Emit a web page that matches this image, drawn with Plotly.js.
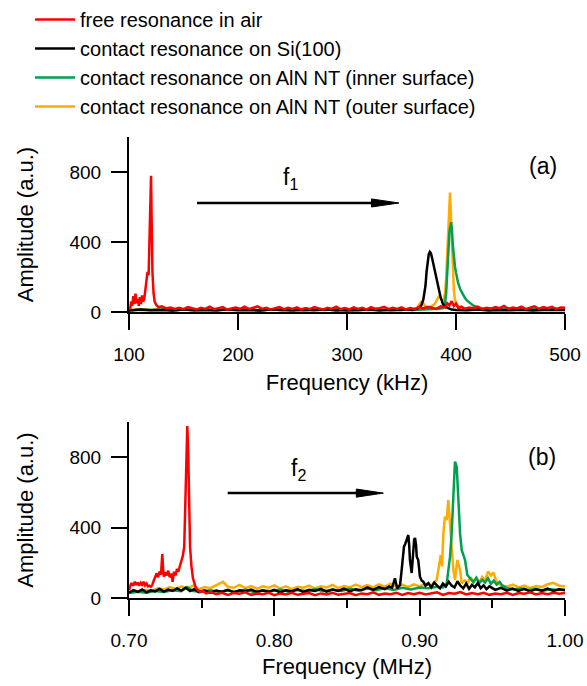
<!DOCTYPE html>
<html>
<head>
<meta charset="utf-8">
<script src="https://cdn.plot.ly/plotly-3.0.1.min.js"></script>
<style>html,body{margin:0;padding:0;background:#fff;}#chart{width:587px;height:686px;}</style>
</head>
<body>
<div id="chart"></div>
<script>
// ---------- Series names and colours ----------
const seriesNames = ["free resonance in air", "contact resonance on Si(100)", "contact resonance on AlN NT (inner surface)", "contact resonance on AlN NT (outer surface)"];
const seriesColors = ["#ff0000", "#000000", "#00a050", "#ffab00"];

// ---------- Panel (a): first resonance, frequency in kHz ----------
const freqA_air = [100,101,102,103,104,105,106,107,108,109,110,111,112,113,114,115,116,117,118,118.8,119.5,120.2,120.8,121.5,122.5,123.5,125,127,130,134,138,142,146,150,154,158,162,166,170,174,178,182,186,190,194,198,202,206,210,214,218,222,226,230,234,238,242,246,250,254,258,262,266,270,274,278,282,286,290,294,298,302,306,310,314,318,322,326,330,334,338,342,346,350,354,358,362,366,370,374,378,382,386,390,392,394,396,398,400,402,405,408,412,416,420,424,428,432,436,440,444,448,452,456,460,464,468,472,476,480,484,488,492,496,500];
const ampA_air = [30,15,60,35,90,45,105,50,75,35,85,45,95,60,75,125,195,229,210,420,690,778,520,230,110,60,40,28,32,20,26,18,24,16,28,20,14,24,18,30,16,22,28,14,20,26,18,30,16,22,32,18,24,14,20,28,16,24,18,26,14,22,16,28,20,14,24,18,30,16,22,14,26,18,24,14,28,18,22,30,16,24,18,26,14,22,16,28,20,30,24,18,32,26,50,38,62,34,48,22,30,18,26,20,30,16,24,18,28,22,34,18,26,20,30,16,24,32,18,28,22,30,16,26,24];

const freqA_si = [100,110,120,130,140,150,160,170,180,190,200,210,220,230,240,250,260,270,280,290,300,310,320,330,340,350,356,360,364,366,368,370,371,372,373,374,375,376,377,378,379,380,381,382,383,384,385,386,387,388,390,393,396,400,410,420,430,440,450,460,470,480,490,500];
const ampA_si = [8,14,10,12,8,14,10,12,9,15,10,12,8,14,11,9,13,10,15,9,12,10,14,9,13,11,16,12,18,26,35,70,110,150,230,300,330,343,335,310,280,245,215,180,150,125,100,80,65,45,30,20,14,12,10,14,9,12,10,13,9,12,10,11];

const freqA_inner = [100,110,120,130,140,150,160,170,180,190,200,210,220,230,240,250,260,270,280,290,300,310,320,330,340,350,360,370,380,385,388,390,391,392,393,394,395.5,396.3,397,398,399,400,402,404,405,407,408.3,410,413,416,420,425,430,440,450,460,470,480,490,500];
const ampA_inner = [9,13,11,15,9,14,10,15,12,13,10,15,9,14,11,15,10,14,12,16,9,14,12,15,10,14,12,15,14,18,22,50,110,240,370,460,513,470,390,310,262,225,165,128,115,92,80,66,50,36,26,18,22,15,19,13,17,14,18,13];

const freqA_outer = [100,110,120,130,140,150,160,170,180,190,200,210,220,230,240,250,260,270,280,290,300,310,320,330,340,350,356,360,364,366,368,370,372,374,376,378,380,382,384,386,388,389,390,391,392,393,394,394.5,395,396,397,398,399,400,402,405,410,415,420,430,440,450,460,470,480,490,500];
const ampA_outer = [10,16,12,18,10,15,12,17,11,16,13,18,10,15,12,17,11,16,13,18,10,15,14,19,12,18,14,20,22,40,58,50,32,22,28,32,42,62,87,80,62,78,110,200,350,520,640,683,610,420,230,125,72,50,34,22,18,24,16,20,15,22,14,19,16,20,15];

// ---------- Panel (b): second resonance, frequency in MHz ----------
const freqB_air = [0.700,0.7016,0.703,0.704,0.705,0.706,0.707,0.708,0.709,0.710,0.711,0.712,0.713,0.714,0.715,0.716,0.717,0.718,0.719,0.720,0.721,0.722,0.7229,0.7236,0.724,0.725,0.726,0.727,0.728,0.729,0.730,0.731,0.732,0.733,0.734,0.735,0.736,0.737,0.738,0.7388,0.7395,0.7401,0.7408,0.7415,0.742,0.743,0.744,0.745,0.746,0.7475,0.749,0.751,0.753,0.756,0.760,0.764,0.768,0.772,0.776,0.780,0.784,0.788,0.792,0.796,0.800,0.804,0.808,0.812,0.816,0.820,0.824,0.828,0.832,0.836,0.840,0.844,0.848,0.852,0.856,0.860,0.864,0.868,0.872,0.876,0.880,0.884,0.888,0.892,0.896,0.900,0.904,0.908,0.912,0.916,0.920,0.924,0.928,0.932,0.936,0.940,0.944,0.948,0.952,0.956,0.960,0.964,0.968,0.972,0.976,0.980,0.984,0.988,0.992,0.996,1.000];
const ampB_air = [45,85,70,92,74,88,70,86,76,92,72,82,66,70,64,74,98,125,140,118,150,132,250,150,121,146,128,155,118,140,92,150,128,165,150,182,205,238,292,520,823,977,810,420,292,178,112,84,58,44,34,40,26,34,22,30,18,28,24,32,18,26,22,30,16,26,20,30,18,24,28,16,26,20,30,18,24,28,16,26,22,32,18,26,22,30,18,28,22,30,20,26,32,18,28,24,34,20,28,22,30,18,26,22,30,18,28,24,32,20,28,22,30,24,28];

const freqB_si = [0.700,0.703,0.706,0.709,0.712,0.715,0.718,0.721,0.724,0.727,0.730,0.733,0.736,0.739,0.742,0.745,0.748,0.752,0.756,0.760,0.764,0.768,0.772,0.776,0.780,0.784,0.788,0.792,0.796,0.800,0.804,0.808,0.812,0.816,0.820,0.824,0.828,0.832,0.836,0.840,0.844,0.848,0.852,0.856,0.860,0.864,0.868,0.872,0.876,0.879,0.881,0.883,0.8845,0.8865,0.8875,0.8883,0.8892,0.8902,0.8911,0.8922,0.8928,0.8933,0.8945,0.8950,0.8956,0.8962,0.8968,0.8975,0.8980,0.8990,0.8996,0.9002,0.9013,0.9025,0.904,0.906,0.908,0.910,0.912,0.914,0.916,0.918,0.920,0.922,0.924,0.926,0.928,0.930,0.932,0.934,0.936,0.938,0.940,0.942,0.944,0.946,0.948,0.952,0.956,0.960,0.964,0.968,0.972,0.976,0.980,0.984,0.988,0.992,0.996,1.000];
const ampB_si = [30,45,35,48,32,44,38,52,36,48,40,55,42,58,40,50,34,44,30,42,36,46,32,44,38,48,34,42,36,46,32,44,38,50,34,46,40,52,36,48,40,54,38,50,44,60,46,62,50,66,58,112,55,74,150,216,292,310,330,358,300,216,142,200,312,330,341,300,235,216,170,121,100,93,70,85,60,88,70,55,82,65,92,70,60,95,70,55,82,52,75,60,86,56,72,50,66,46,58,42,54,40,52,38,50,42,54,40,50,44];

const freqB_inner = [0.700,0.706,0.712,0.718,0.724,0.730,0.736,0.740,0.744,0.750,0.756,0.762,0.768,0.774,0.780,0.786,0.792,0.798,0.804,0.810,0.816,0.822,0.828,0.834,0.840,0.846,0.852,0.858,0.864,0.870,0.876,0.882,0.888,0.894,0.900,0.906,0.912,0.916,0.9186,0.9209,0.9220,0.9232,0.9243,0.9255,0.9266,0.9278,0.9289,0.9312,0.9328,0.935,0.937,0.939,0.941,0.943,0.945,0.947,0.949,0.951,0.953,0.955,0.957,0.960,0.965,0.970,0.975,0.980,0.985,0.990,0.995,1.000];
const ampB_inner = [28,36,30,40,34,44,38,62,40,36,44,34,42,36,46,34,44,38,48,36,46,40,50,38,48,40,52,42,54,44,56,46,58,48,60,56,64,60,83,235,367,595,775,746,557,367,273,216,131,108,90,115,85,104,88,112,80,98,76,92,70,56,48,54,44,52,42,50,46,48];

const freqB_outer = [0.700,0.704,0.708,0.712,0.716,0.720,0.724,0.728,0.732,0.736,0.740,0.744,0.748,0.752,0.756,0.760,0.7647,0.768,0.772,0.776,0.780,0.784,0.788,0.792,0.796,0.800,0.804,0.808,0.812,0.816,0.820,0.824,0.828,0.832,0.836,0.840,0.844,0.848,0.852,0.856,0.860,0.864,0.868,0.872,0.876,0.880,0.884,0.888,0.892,0.896,0.900,0.904,0.908,0.9117,0.9135,0.9145,0.9154,0.9163,0.9174,0.9186,0.9197,0.9209,0.9220,0.9232,0.9243,0.9259,0.9278,0.9289,0.931,0.933,0.935,0.937,0.939,0.941,0.943,0.945,0.947,0.949,0.9507,0.953,0.956,0.960,0.964,0.968,0.972,0.976,0.980,0.984,0.988,0.992,0.996,1.000];
const ampB_outer = [36,42,34,46,40,56,48,62,52,66,54,70,50,62,56,72,92,64,58,74,56,68,52,66,58,72,54,66,50,64,58,70,54,66,60,74,56,68,60,76,62,74,60,78,64,82,66,76,62,78,66,80,72,102,197,244,180,367,462,443,557,405,311,159,102,216,159,83,100,86,118,92,110,88,120,100,150,128,145,90,72,64,76,60,70,56,68,62,78,86,70,66];

// ---------- Tick labels ----------
const ticksA_x = [100, 200, 300, 400, 500];
const ticksB_x = [0.70, 0.80, 0.90, 1.00];
const ticksB_xText = ["0.70", "0.80", "0.90", "1.00"];
const minorB_x = [0.75, 0.85, 0.95];
const ticks_y = [0, 400, 800];

// ---------- Build traces (drawing order: outer, inner, Si, air) ----------
const FONT = "Liberation Sans, Arial, Helvetica, sans-serif";
const LW = 2.5;
const panelA = [freqA_air, ampA_air, freqA_si, ampA_si, freqA_inner, ampA_inner, freqA_outer, ampA_outer];
const panelB = [freqB_air, ampB_air, freqB_si, ampB_si, freqB_inner, ampB_inner, freqB_outer, ampB_outer];
const drawOrder = [3, 2, 1, 0];
const traces = [];
drawOrder.forEach(function (i) {
  traces.push({
    x: panelA[2 * i], y: panelA[2 * i + 1], xaxis: "x", yaxis: "y",
    type: "scatter", mode: "lines", name: seriesNames[i],
    line: {color: seriesColors[i], width: LW},
    legendrank: i + 1, showlegend: true
  });
});
drawOrder.forEach(function (i) {
  traces.push({
    x: panelB[2 * i], y: panelB[2 * i + 1], xaxis: "x2", yaxis: "y2",
    type: "scatter", mode: "lines", name: seriesNames[i],
    line: {color: seriesColors[i], width: LW},
    showlegend: false
  });
});
// empty carrier trace so the minor-tick overlay axis is drawn
traces.push({x: [], y: [], xaxis: "x3", yaxis: "y2", type: "scatter", mode: "lines", showlegend: false, hoverinfo: "skip"});

const H = 686;
function py(px) { return 1 - px / H; }

const axisCommon = {
  showline: true, linecolor: "#000", linewidth: 2,
  ticks: "outside", ticklen: 16, tickwidth: 2, tickcolor: "#000",
  showgrid: false, zeroline: false, fixedrange: true,
  tickfont: {family: FONT, size: 19, color: "#000"}
};

const layout = {
  width: 587, height: 686,
  margin: {l: 129, r: 22, t: 0, b: 0, autoexpand: false},
  paper_bgcolor: "#fff", plot_bgcolor: "#fff",
  font: {family: FONT, color: "#000"},
  showlegend: true,
  legend: {
    x: -0.227, y: 1.0, xanchor: "left", yanchor: "top",
    font: {family: FONT, size: 20, color: "#000"},
    bgcolor: "rgba(0,0,0,0)", borderwidth: 0,
    itemwidth: 40
  },
  xaxis: Object.assign({}, axisCommon, {
    domain: [0, 1], anchor: "y", range: [100, 500],
    tickmode: "array", tickvals: ticksA_x, ticklabelstandoff: 8,
    title: {text: "Frequency (kHz)", font: {family: FONT, size: 22, color: "#000"}, standoff: 11}
  }),
  yaxis: Object.assign({}, axisCommon, {
    domain: [py(312), py(137)], anchor: "x", range: [0, 1000],
    tickmode: "array", tickvals: ticks_y, ticklabelstandoff: 6,
    title: {text: "Amplitude (a.u.)", font: {family: FONT, size: 22, color: "#000"}, standoff: 30}
  }),
  xaxis2: Object.assign({}, axisCommon, {
    domain: [0, 1], anchor: "y2", range: [0.70, 1.00],
    tickmode: "array", tickvals: ticksB_x, ticktext: ticksB_xText, ticklabelstandoff: 8,
    title: {text: "Frequency (MHz)", font: {family: FONT, size: 22, color: "#000"}, standoff: 9}
  }),
  xaxis3: {
    overlaying: "x2", anchor: "y2", side: "bottom", range: [0.70, 1.00],
    tickmode: "array", tickvals: minorB_x, ticks: "outside", ticklen: 9, tickwidth: 2, tickcolor: "#000",
    showticklabels: false, showline: false, showgrid: false, zeroline: false, fixedrange: true
  },
  yaxis2: Object.assign({}, axisCommon, {
    domain: [py(598), py(422)], anchor: "x2", range: [0, 1000],
    tickmode: "array", tickvals: ticks_y, ticklabelstandoff: 6,
    title: {text: "Amplitude (a.u.)", font: {family: FONT, size: 22, color: "#000"}, standoff: 30}
  }),
  annotations: [
    {xref: "x", yref: "y", x: 479.4, y: 835, text: "(a)", showarrow: false, font: {family: FONT, size: 23, color: "#000"}},
    {xref: "x2", yref: "y2", x: 0.9845, y: 803, text: "(b)", showarrow: false, font: {family: FONT, size: 23, color: "#000"}},
    {xref: "x", yref: "y", x: 248, y: 765, text: "f<sub>1</sub>", showarrow: false, font: {family: FONT, size: 23, color: "#000"}},
    {xref: "x2", yref: "y2", x: 0.8163, y: 730, text: "f<sub>2</sub>", showarrow: false, font: {family: FONT, size: 23, color: "#000"}}
  ],
  shapes: [
    {type: "line", xref: "x", yref: "y", x0: 162.4, x1: 326, y0: 623, y1: 623, line: {color: "#000", width: 2.5}},
    {type: "path", xref: "x", yref: "y", path: "M 322.5 646 L 347.7 623 L 322.5 600 Z", fillcolor: "#000", line: {color: "#000", width: 1}},
    {type: "line", xref: "x2", yref: "y2", x0: 0.7679, x1: 0.8585, y0: 596, y1: 596, line: {color: "#000", width: 2.5}},
    {type: "path", xref: "x2", yref: "y2", path: "M 0.8564 619 L 0.8750 596 L 0.8564 573 Z", fillcolor: "#000", line: {color: "#000", width: 1}}
  ]
};

Plotly.newPlot("chart", traces, layout, {staticPlot: true, displayModeBar: false});
</script>
</body>
</html>
